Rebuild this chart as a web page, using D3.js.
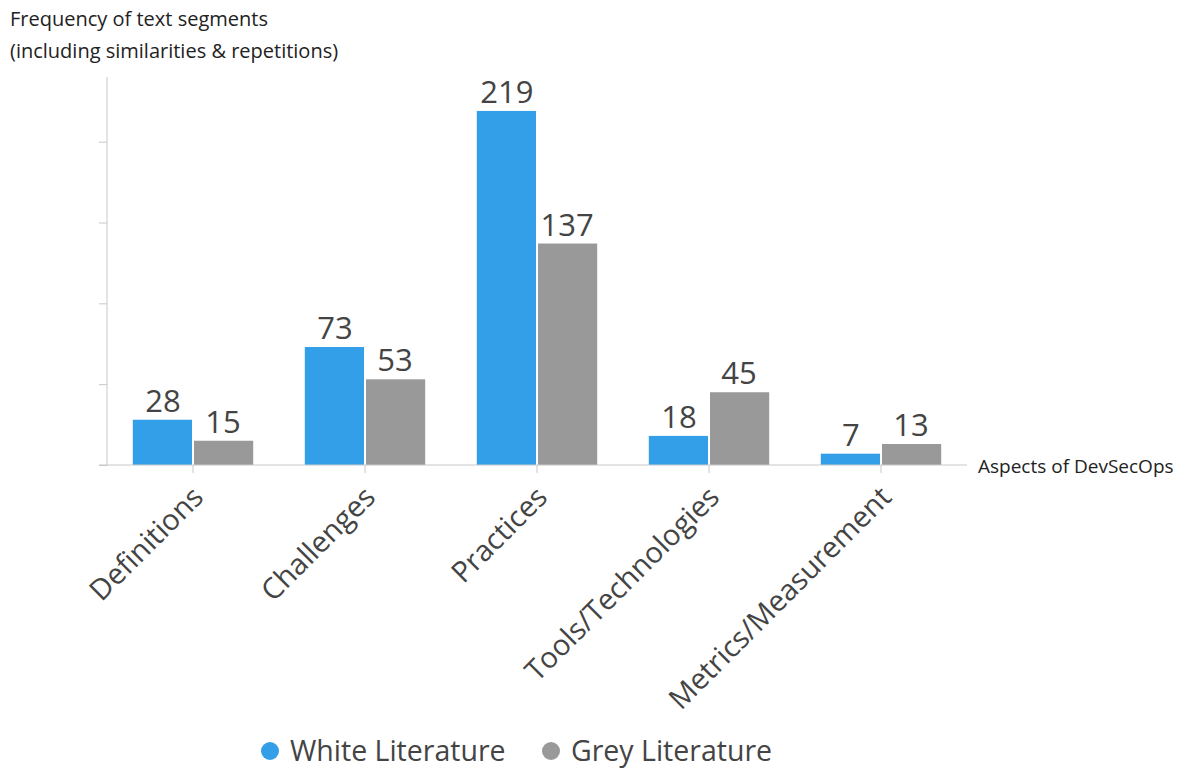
<!DOCTYPE html>
<html><head><meta charset="utf-8">
<script src="https://cdn.jsdelivr.net/npm/d3@7"></script>
<style>body{margin:0;background:#fff;}svg{display:block;font-family:"Open Sans",sans-serif;}</style>
</head><body>
<svg id="c" width="1193" height="771"></svg>
<script>
const categories = ["Definitions","Challenges","Practices","Tools/Technologies","Metrics/Measurement"];
const seriesNames = ["White Literature","Grey Literature"];
const whiteValues = [28,73,219,18,7];
const greyValues = [15,53,137,45,13];
const yTicks = [0,50,100,150,200];
const colors = ["#349fe9","#999999"];

const svg = d3.select("#c");
const x0 = 107, x1 = 967, yBase = 465, yTop = 77;
const x = d3.scaleBand().domain(categories).range([x0,x1]).paddingInner(0.3).paddingOuter(0.15);
const xs = d3.scaleBand().domain(seriesNames).range([0,x.bandwidth()]).padding(0);
const y = d3.scaleLinear().domain([0,240]).range([yBase,yTop]);

const data = categories.map((c,i)=>({cat:c, vals:[whiteValues[i],greyValues[i]]}));

// y axis
const yAxis = d3.axisLeft(y).tickValues(yTicks).tickSize(8).tickFormat("");
const gy = svg.append("g").attr("transform",`translate(${x0},0)`).call(yAxis);
gy.select(".domain").attr("stroke","#c8c8c8").attr("d",`M0,${yBase}V${yTop}`);
gy.selectAll(".tick line").attr("stroke","#c8c8c8");

// bars
const g = svg.append("g");
data.forEach(d=>{
  d.vals.forEach((v,j)=>{
    const bx = x(d.cat)+xs(seriesNames[j]);
    g.append("rect").attr("x",bx+ (j===1?1:0)).attr("y",y(v)).attr("width",xs.bandwidth()-1).attr("height",yBase-y(v)).attr("fill",colors[j]);
    g.append("text").attr("x",bx+xs.bandwidth()/2).attr("y",y(v)-8).attr("text-anchor","middle")
      .attr("font-size",31).attr("fill","#444").text(v);
  });
});

// x axis
const xAxis = d3.axisBottom(x).tickSize(8).tickSizeOuter(0).tickFormat("");
const gx = svg.append("g").attr("transform",`translate(0,${yBase})`).call(xAxis)
  .attr("font-family","'Open Sans',sans-serif");
gx.select(".domain").attr("stroke","#c8c8c8").attr("d",`M${x0-8},0H${x1}`);
gx.selectAll(".tick line").attr("stroke","#c8c8c8");
gx.selectAll(".tick").append("text")
  .attr("transform","translate(12,34) rotate(-45)")
  .attr("text-anchor","end").attr("font-size",29).attr("fill","#444")
  .text(d=>d);

// axis titles
svg.append("text").attr("x",10).attr("y",26).attr("font-size",20).attr("fill","#222").text("Frequency of text segments");
svg.append("text").attr("x",10).attr("y",58).attr("font-size",20).attr("fill","#222").text("(including similarities & repetitions)");
svg.append("text").attr("x",978).attr("y",473).attr("font-size",19).attr("fill","#222").text("Aspects of DevSecOps");

// legend
const legX = [270,551];
seriesNames.forEach((n,i)=>{
  svg.append("circle").attr("cx",legX[i]).attr("cy",751).attr("r",9).attr("fill",colors[i]);
  svg.append("text").attr("x",legX[i]+20).attr("y",761).attr("font-size",28.5).attr("fill","#444").text(n);
});
</script>
</body></html>
